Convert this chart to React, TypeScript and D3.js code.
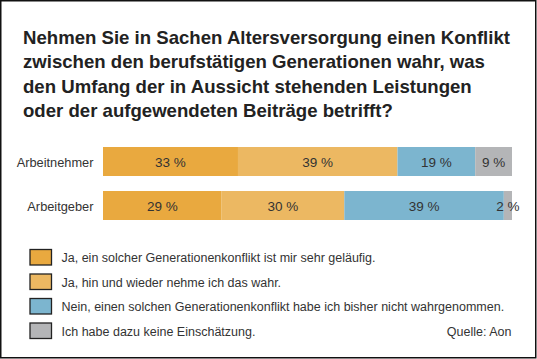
import React from "react";
import * as d3 from "d3";

const titleLines = [
  "Nehmen Sie in Sachen Altersversorgung einen Konflikt",
  "zwischen den berufstätigen Generationen wahr, was",
  "den Umfang der in Aussicht stehenden Leistungen",
  "oder der aufgewendeten Beiträge betrifft?",
];
const categories = ["Arbeitnehmer", "Arbeitgeber"];
const seriesNames = [
  "Ja, ein solcher Generationenkonflikt ist mir sehr geläufig.",
  "Ja, hin und wieder nehme ich das wahr.",
  "Nein, einen solchen Generationenkonflikt habe ich bisher nicht wahrgenommen.",
  "Ich habe dazu keine Einschätzung.",
];
const seriesColors = ["#E9A93F", "#ECB862", "#7CB5CF", "#B4B5B7"];
const valuesArbeitnehmer = [33, 39, 19, 9];
const valuesArbeitgeber = [29, 30, 39, 2];
const source = "Quelle: Aon";

const W = 537;
const H = 359;
const FONT = "'Liberation Sans', Arial, sans-serif";

export default function App() {
  const rows = [valuesArbeitnehmer, valuesArbeitgeber];
  const x = d3.scaleLinear().domain([0, 100]).range([103, 512]);
  const y = d3.scaleBand().domain(categories).range([147, 220]).paddingInner(15 / 44).paddingOuter(0);
  const stack = rows.map((vals) => {
    let acc = 0;
    return vals.map((v, i) => {
      const s = { x0: acc, x1: acc + v, v, i };
      acc += v;
      return s;
    });
  });
  const legendY = d3.scaleBand().domain(seriesNames).range([249.5, 347.5]).paddingInner(0);

  return (
    <svg width={W} height={H} style={{ position: "absolute", left: 0, top: 0, background: "#fff" }} fontFamily={FONT}>
      <rect x={0.75} y={0.75} width={535} height={357} fill="#fff" stroke="#111" strokeWidth={1.5} />
      {titleLines.map((t, i) => (
        <text key={i} x={23} y={43.5 + i * 24.6} fontSize={18.6} fontWeight="bold" fill="#222">
          {t}
        </text>
      ))}
      {categories.map((c, ri) => {
        const yy = y(c)!;
        const bh = y.bandwidth();
        return (
          <g key={c}>
            <text x={93.5} y={yy + bh / 2 + 5} textAnchor="end" fontSize={12.8} fill="#333">
              {c}
            </text>
            {stack[ri].map((s) => (
              <rect key={s.i} x={x(s.x0)} y={yy} width={x(s.x1) - x(s.x0)} height={bh} fill={seriesColors[s.i]} />
            ))}
            {stack[ri].map((s) => (
              <text
                key={"l" + s.i}
                x={(x(s.x0) + x(s.x1)) / 2}
                y={yy + bh / 2 + 5}
                textAnchor="middle"
                fontSize={13.5}
                fill="#333"
              >
                {s.v + " %"}
              </text>
            ))}
          </g>
        );
      })}
      {seriesNames.map((n, i) => {
        const ly = legendY(n)!;
        return (
          <g key={n}>
            <rect x={30} y={ly} width={21.5} height={15.5} fill={seriesColors[i]} stroke="#222" strokeWidth={1.3} />
            <text x={61.5} y={ly + 12.5} fontSize={12.5} fill="#333">
              {n}
            </text>
          </g>
        );
      })}
      <text x={511.5} y={legendY(seriesNames[3])! + 12.5} textAnchor="end" fontSize={12.5} fill="#333">
        {source}
      </text>
    </svg>
  );
}
